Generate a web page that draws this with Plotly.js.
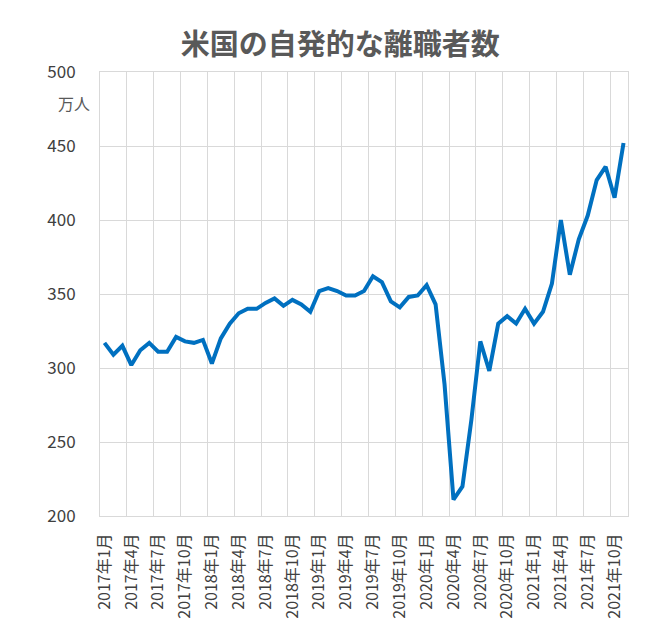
<!DOCTYPE html>
<html>
<head>
<meta charset="utf-8">
<script src="https://cdn.plot.ly/plotly-3.0.1.min.js"></script>
<style>
  body { margin: 0; background: #fff; }
  #chart { width: 647px; height: 624px; }
</style>
</head>
<body>
<div id="chart"></div>
<script>
// 月次ラベル 2017年1月〜2021年11月
const years = [2017, 2018, 2019, 2020, 2021];
const months = [1, 2, 3, 4, 5, 6, 7, 8, 9, 10, 11, 12];
const lastMonth2021 = 11;

// 自発的な離職者数（万人）
const quits2017 = [317, 309, 315, 302, 312, 317, 311, 311, 321, 318, 317, 319];
const quits2018 = [303, 320, 330, 337, 340, 340, 344, 347, 342, 346, 343, 338];
const quits2019 = [352, 354, 352, 349, 349, 352, 362, 358, 345, 341, 348, 349];
const quits2020 = [356, 343, 289, 211, 220, 265, 318, 298, 330, 335, 330, 340];
const quits2021 = [330, 338, 357, 400, 363, 387, 403, 427, 436, 415, 452];

const labels = [];
years.forEach((y) => {
  months.forEach((m) => {
    if (y === 2021 && m > lastMonth2021) return;
    labels.push(y + "年" + m + "月");
  });
});
const quits = [...quits2017, ...quits2018, ...quits2019, ...quits2020, ...quits2021];

const font = '"Noto Sans CJK JP", "Noto Sans", sans-serif';

Plotly.newPlot(
  "chart",
  [
    {
      x: labels,
      y: quits,
      type: "scatter",
      mode: "lines",
      line: { color: "#0070C0", width: 4 },
      hoverinfo: "x+y",
    },
  ],
  {
    width: 647,
    height: 624,
    margin: { l: 100, r: 19, t: 72, b: 108 },
    paper_bgcolor: "#fff",
    plot_bgcolor: "#fff",
    showlegend: false,
    font: { family: font, color: "#404040" },
    title: {
      text: "米国の自発的な離職者数",
      font: { family: font, size: 29, color: "#595959", weight: "bold" },
      x: 0.526,
      xanchor: "center",
      y: 0.928,
      yanchor: "middle",
    },
    xaxis: {
      type: "category",
      range: [-0.5, labels.length - 0.5],
      tickmode: "linear",
      tick0: 0,
      dtick: 3,
      tickson: "boundaries",
      ticks: "",
      tickangle: -90,
      ticklabelstandoff: 10,
      tickfont: { family: font, size: 16, color: "#404040" },
      showgrid: true,
      gridcolor: "#d9d9d9",
      gridwidth: 1,
      showline: true,
      linecolor: "#d9d9d9",
      mirror: true,
      zeroline: false,
    },
    yaxis: {
      range: [200, 500],
      tickmode: "linear",
      tick0: 200,
      dtick: 50,
      ticks: "",
      ticklabelstandoff: 20,
      tickfont: { family: font, size: 17, color: "#404040" },
      showgrid: true,
      gridcolor: "#d9d9d9",
      gridwidth: 1,
      showline: true,
      linecolor: "#d9d9d9",
      mirror: true,
      zeroline: false,
    },
    annotations: [
      {
        text: "万人",
        xref: "paper",
        yref: "paper",
        x: -0.015,
        y: 0.93,
        xanchor: "right",
        yanchor: "middle",
        showarrow: false,
        font: { family: font, size: 16, color: "#595959" },
      },
    ],
  },
  { displayModeBar: false }
);
</script>
</body>
</html>
